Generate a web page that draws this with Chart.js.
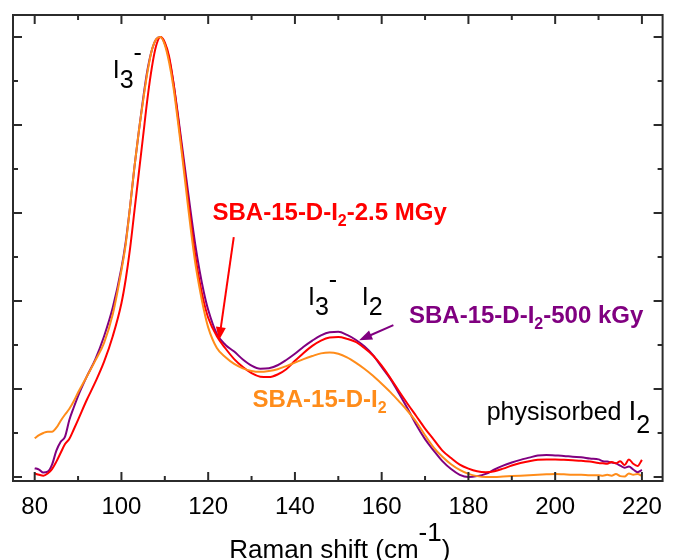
<!DOCTYPE html>
<html>
<head>
<meta charset="utf-8">
<script src="https://cdn.jsdelivr.net/npm/chart.js@4/dist/chart.umd.min.js"></script>
<style>
html,body{margin:0;padding:0;background:#fff;}
canvas{display:block;}
</style>
</head>
<body>
<canvas id="c" width="674" height="560"></canvas>
<script>
// Raman shift (cm-1) sample positions
const ramanShift = [80,81,82,83,84,85,86,87,88,89,90,92,94,96,98,
  100,101,102,103,104,105,106,107,108,109,110,111,112,113,114,115,116,117,118,119,120,
  122,124,126,128,130,132,134,136,138,140,142,144,146,148,150,152,154,156,158,160,
  162,164,166,168,170,172,174,176,178,180,182,184,186,188,190,192,194,196,198,200,
  202,204,206,208,210,211,212,213,214,215,216,217,218,219,220];

// SBA-15-D-I2 (orange)
const sbaD = [0.88,0.95,1.0,1.03,1.03,1.12,1.28,1.42,1.55,1.72,1.92,2.28,2.65,3.05,3.7,
  4.7,5.3,6.15,7.05,7.85,8.55,9.2,9.7,9.95,10.0,9.82,9.42,8.85,8.1,7.3,6.45,5.62,4.88,4.3,3.8,3.4,
  2.93,2.72,2.57,2.47,2.41,2.39,2.41,2.45,2.52,2.6,2.68,2.75,2.81,2.83,2.8,2.72,2.6,2.46,2.3,2.12,
  1.93,1.72,1.5,1.25,0.95,0.67,0.46,0.29,0.16,0.07,0.02,0.0,0.0,0.01,0.02,0.03,0.04,0.05,0.06,0.07,
  0.06,0.05,0.05,0.04,0.04,0.03,0.05,0.03,0.07,0.02,0.01,0.08,0.05,0.07,0.02];

// SBA-15-D-I2-2.5 MGy (red)
const sba25M = [0.08,0.05,0.03,0.08,0.18,0.35,0.55,0.75,0.87,1.08,1.3,1.75,2.16,2.62,3.2,
  3.95,4.5,5.2,6.05,6.9,7.75,8.6,9.3,9.8,10.0,9.88,9.55,8.95,8.2,7.4,6.6,5.8,5.05,4.45,3.98,3.62,
  3.2,2.92,2.68,2.5,2.36,2.28,2.27,2.33,2.45,2.64,2.82,2.98,3.1,3.17,3.18,3.14,3.07,2.93,2.76,2.53,
  2.25,1.95,1.66,1.38,1.1,0.85,0.6,0.43,0.28,0.19,0.13,0.11,0.13,0.19,0.26,0.32,0.36,0.39,0.4,0.4,
  0.39,0.38,0.37,0.35,0.32,0.31,0.3,0.34,0.31,0.36,0.27,0.4,0.3,0.25,0.39];

// SBA-15-D-I2-500 kGy (purple)
const sba500k = [0.2,0.17,0.1,0.12,0.28,0.6,0.8,0.92,1.3,1.58,1.84,2.28,2.68,3.2,3.85,
  4.75,5.35,6.15,7.05,7.85,8.6,9.25,9.7,9.95,10.0,9.85,9.5,8.95,8.25,7.5,6.75,6.0,5.3,4.7,4.2,3.8,
  3.25,3.0,2.85,2.67,2.53,2.46,2.47,2.54,2.66,2.8,2.96,3.1,3.22,3.29,3.3,3.23,3.12,2.97,2.77,2.5,
  2.23,1.9,1.55,1.18,0.86,0.6,0.36,0.18,0.05,0.0,0.02,0.07,0.17,0.26,0.33,0.39,0.44,0.49,0.5,0.49,
  0.48,0.46,0.45,0.42,0.4,0.36,0.35,0.33,0.31,0.26,0.21,0.24,0.17,0.11,0.16];

const xTickValues = [80,100,120,140,160,180,200,220];
const xMinorTicks = [90,110,130,150,170,190,210];
const yMajorTicks = [0,2,4,6,8,10];
const yMinorTicks = [1,3,5,7,9];

const seriesNames = ['SBA-15-D-I2','SBA-15-D-I2-2.5 MGy','SBA-15-D-I2-500 kGy'];
const COLORS = { orange:'#FF8C1A', red:'#FF0000', purple:'#800080' };
const FONT = '"Liberation Sans", Arial, Helvetica, sans-serif';

function pts(arr){ return ramanShift.map((x,i)=>({x:x, y:arr[i]})); }

function rich(ctx, x, y, parts, color){
  let cx = x;
  ctx.fillStyle = color;
  ctx.textBaseline = 'alphabetic';
  ctx.textAlign = 'left';
  for (const p of parts){
    ctx.font = (p.b ? 'bold ' : '') + p.s + 'px ' + FONT;
    ctx.fillText(p.t, cx, y + (p.dy || 0));
    cx += ctx.measureText(p.t).width;
  }
  return cx;
}
function richWidth(ctx, parts){
  let w = 0;
  for (const p of parts){ ctx.font = (p.b ? 'bold ' : '') + p.s + 'px ' + FONT; w += ctx.measureText(p.t).width; }
  return w;
}
function arrow(ctx, x1, y1, x2, y2, color){
  const ang = Math.atan2(y2-y1, x2-x1);
  const L = 13, W = 5;
  ctx.strokeStyle = color; ctx.fillStyle = color; ctx.lineWidth = 2;
  ctx.beginPath(); ctx.moveTo(x1,y1);
  ctx.lineTo(x2 - L*0.8*Math.cos(ang), y2 - L*0.8*Math.sin(ang)); ctx.stroke();
  ctx.beginPath();
  ctx.moveTo(x2, y2);
  ctx.lineTo(x2 - L*Math.cos(ang) + W*Math.sin(ang), y2 - L*Math.sin(ang) - W*Math.cos(ang));
  ctx.lineTo(x2 - L*Math.cos(ang) - W*Math.sin(ang), y2 - L*Math.sin(ang) + W*Math.cos(ang));
  ctx.closePath(); ctx.fill();
}

const framePlugin = {
  id: 'frame',
  afterDraw(chart){
    const ctx = chart.ctx, a = chart.chartArea;
    const xs = chart.scales.x, ys = chart.scales.y;
    ctx.save();
    // frame
    ctx.strokeStyle = '#2b2b2b'; ctx.lineWidth = 2;
    ctx.strokeRect(a.left, a.top, a.right - a.left, a.bottom - a.top);
    // ticks (inward)
    const tick = (x1,y1,x2,y2)=>{ ctx.beginPath(); ctx.moveTo(x1,y1); ctx.lineTo(x2,y2); ctx.stroke(); };
    const MAJ = 9, MIN = 5;
    xTickValues.forEach(v=>{ const p = xs.getPixelForValue(v); tick(p,a.bottom,p,a.bottom-MAJ); tick(p,a.top,p,a.top+MAJ); });
    xMinorTicks.forEach(v=>{ const p = xs.getPixelForValue(v); tick(p,a.bottom,p,a.bottom-MIN); tick(p,a.top,p,a.top+MIN); });
    yMajorTicks.forEach(v=>{ const p = ys.getPixelForValue(v); tick(a.left,p,a.left+MAJ,p); tick(a.right,p,a.right-MAJ,p); });
    yMinorTicks.forEach(v=>{ const p = ys.getPixelForValue(v); tick(a.left,p,a.left+MIN,p); tick(a.right,p,a.right-MIN,p); });

    const X = v=>xs.getPixelForValue(v), Y = v=>ys.getPixelForValue(v);
    // I3- (main peak)
    rich(ctx, X(98.0), Y(9.07), [{t:'I',s:25},{t:'3',s:25,dy:10},{t:'-',s:25,dy:-17}], '#000');
    // I3-  I2 (second band)
    rich(ctx, X(143.0), Y(3.91), [{t:'I',s:25},{t:'3',s:25,dy:10},{t:'-',s:25,dy:-17}], '#000');
    rich(ctx, X(155.4), Y(3.91), [{t:'I',s:25},{t:'2',s:25,dy:10}], '#000');
    // physisorbed I2
    rich(ctx, X(184.2), Y(1.3), [{t:'physisorbed ',s:25},{t:'I',s:28},{t:'2',s:25,dy:13}], '#000');
    // series labels
    rich(ctx, X(121.0), Y(5.85), [{t:'SBA-15-D-I',s:24,b:1},{t:'2',s:16,b:1,dy:6},{t:'-2.5 MGy',s:24,b:1}], COLORS.red);
    rich(ctx, X(166.3), Y(3.5), [{t:'SBA-15-D-I',s:24,b:1},{t:'2',s:16,b:1,dy:6},{t:'-500 kGy',s:24,b:1}], COLORS.purple);
    rich(ctx, X(130.2), Y(1.59), [{t:'SBA-15-D-I',s:24,b:1},{t:'2',s:16,b:1,dy:6}], COLORS.orange);
    // arrows
    arrow(ctx, X(125.9), Y(5.45), X(122.5), Y(3.11), COLORS.red);
    arrow(ctx, X(162.7), Y(3.45), X(154.8), Y(3.11), COLORS.purple);
    // x-axis title
    const tparts = [{t:'Raman shift (cm',s:26},{t:'-1',s:26,dy:-17},{t:')',s:26}];
    const w = richWidth(ctx, tparts);
    rich(ctx, (a.left + a.right)/2 - w/2 + 2, 558, tparts, '#000');
    ctx.restore();
  }
};

new Chart(document.getElementById('c'), {
  type: 'line',
  data: {
    datasets: [
      { label: seriesNames[0], data: pts(sbaD), borderColor: COLORS.orange },
      { label: seriesNames[1], data: pts(sba25M), borderColor: COLORS.red },
      { label: seriesNames[2], data: pts(sba500k), borderColor: COLORS.purple }
    ]
  },
  options: {
    responsive: false,
    animation: false,
    devicePixelRatio: 1,
    datasets: { line: { borderWidth: 2, pointRadius: 0, cubicInterpolationMode: 'monotone', fill: false } },
    layout: { padding: { left: 13, right: 2, top: 15, bottom: 0 } },
    plugins: { legend: { display: false }, tooltip: { enabled: false } },
    scales: {
      x: {
        type: 'linear', min: 75, max: 224.77,
        grid: { display: false, drawTicks: false },
        border: { display: false },
        afterBuildTicks: s => { s.ticks = xTickValues.map(v => ({ value: v })); },
        afterFit: s => { s.height = 79; },
        ticks: { autoSkip: false, maxRotation: 0, padding: 12, color: '#000', font: { family: FONT, size: 24 } }
      },
      y: { display: false, min: -0.0909, max: 10.5 }
    }
  },
  plugins: [framePlugin]
});
</script>
</body>
</html>
